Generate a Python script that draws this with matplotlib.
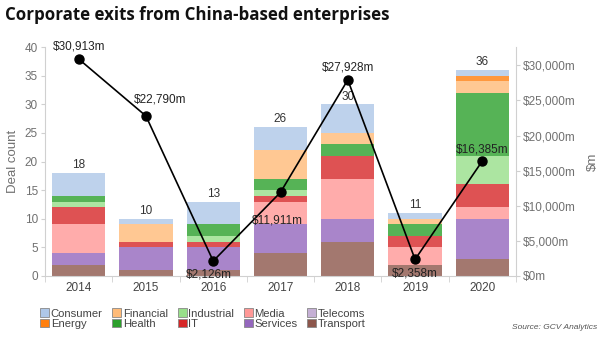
import numpy as np
import matplotlib.pyplot as plt
from matplotlib.patches import Patch
from matplotlib.ticker import FuncFormatter

plt.rcParams['font.family'] = ['Liberation Sans', 'DejaVu Sans']

years = ['2014', '2015', '2016', '2017', '2018', '2019', '2020']

# deal counts per sector, stacked bottom to top
transport  = [2, 1, 1, 4, 6, 2, 3]
services   = [2, 4, 4, 5, 4, 0, 7]
telecoms   = [0, 0, 0, 0, 0, 0, 0]
media      = [5, 0, 0, 4, 7, 3, 2]
it         = [3, 1, 1, 1, 4, 2, 4]
industrial = [1, 0, 1, 1, 0, 0, 5]
health     = [1, 0, 2, 2, 2, 2, 11]
financial  = [0, 3, 0, 5, 2, 1, 2]
energy     = [0, 0, 0, 0, 0, 0, 1]
consumer   = [4, 1, 4, 4, 5, 1, 1]

# exit value, $m
deal_value = [30913, 22790, 2126, 11911, 27928, 2358, 16385]

stack = [
    ('Transport', transport, '#8c564b'),
    ('Services', services, '#9467bd'),
    ('Telecoms', telecoms, '#c5b0d5'),
    ('Media', media, '#ff9896'),
    ('IT', it, '#d62728'),
    ('Industrial', industrial, '#98df8a'),
    ('Health', health, '#2ca02c'),
    ('Financial', financial, '#ffbb78'),
    ('Energy', energy, '#ff7f0e'),
    ('Consumer', consumer, '#aec7e8'),
]

grey = '#707070'
spine_c = '#d0d0d0'

fig = plt.figure(figsize=(6, 3.39), dpi=100)
ax = fig.add_axes([0.075, 0.186, 0.785, 0.675])
x = np.arange(len(years))

bottom = np.zeros(len(years))
for name, vals, col in stack:
    v = np.array(vals, dtype=float)
    ax.bar(x, v, 0.79, bottom=bottom, color=col, alpha=0.8, linewidth=0)
    bottom += v

for xi, tot in zip(x, bottom):
    ax.text(xi, tot + 0.3, '%d' % tot, ha='center', va='bottom', fontsize=8.5, color='#333333')

ax.set_xlim(-0.5, len(years) - 0.5)
ax.set_ylim(0, 40)
ax.set_yticks(range(0, 41, 5))
ax.set_xticks(x)
ax.set_xticklabels(years)
ax.set_xticks(np.arange(-0.5, len(years), 1), minor=True)
ax.tick_params(axis='x', which='major', length=0, labelsize=8.5, labelcolor='#444444', pad=4)
ax.tick_params(axis='x', which='minor', length=4, color=spine_c)
ax.tick_params(axis='y', length=3, color=spine_c, labelsize=8.5, labelcolor=grey, pad=2)
ax.set_ylabel('Deal count', fontsize=9.5, color=grey, labelpad=4)
for s in ['top', 'right']:
    ax.spines[s].set_visible(False)
for s in ['left', 'bottom']:
    ax.spines[s].set_color(spine_c)

ax2 = ax.twinx()
ax2.set_ylim(0, 32600)
ax2.set_yticks(range(0, 30001, 5000))
ax2.yaxis.set_major_formatter(FuncFormatter(lambda v, p: '${:,.0f}m'.format(v)))
ax2.tick_params(axis='y', length=3, color=spine_c, labelsize=8.5, labelcolor=grey, pad=2)
ax2.set_ylabel('$m', fontsize=9.5, color=grey, rotation=90, labelpad=8)
for s in ['top', 'left', 'bottom']:
    ax2.spines[s].set_visible(False)
ax2.spines['right'].set_color(spine_c)

ax2.plot(x, deal_value, color='black', linewidth=1.2, marker='o', markersize=6.5, zorder=5)

# label offsets in points (dx, dy)
offsets = [(0, 9), (10, 12), (-3, -10), (-2, -20), (0, 9), (0, -10), (0, 8)]
for xi, v, (dx, dy) in zip(x, deal_value, offsets):
    ax2.annotate('${:,}m'.format(v), (xi, v), xytext=(dx, dy), textcoords='offset points',
                 ha='center', va='center', fontsize=8.5, color='#222222', zorder=6)

fig.text(0.008, 0.955, 'Corporate exits from China-based enterprises', fontsize=12.2,
         fontweight='bold', family=['Open Sans', 'DejaVu Sans'], color='#111111', va='center')

order = ['Consumer', 'Energy', 'Financial', 'Health', 'Industrial', 'IT', 'Media',
         'Services', 'Telecoms', 'Transport']
colors = dict((n, c) for n, _, c in stack)
handles = [Patch(facecolor=colors[n], edgecolor='#888888', linewidth=0.6, label=n) for n in order]
fig.legend(handles=handles, ncol=5, loc='lower left', bbox_to_anchor=(0.05, 0.0),
           frameon=False, fontsize=8.1, handlelength=0.8, handleheight=0.8,
           handletextpad=0.15, columnspacing=0.85, labelspacing=0.0, labelcolor='#444444')

fig.text(0.995, 0.03, 'Source: GCV Analytics', fontsize=6, style='italic', color='#555555', ha='right')

fig.savefig('out.png', dpi=100)
